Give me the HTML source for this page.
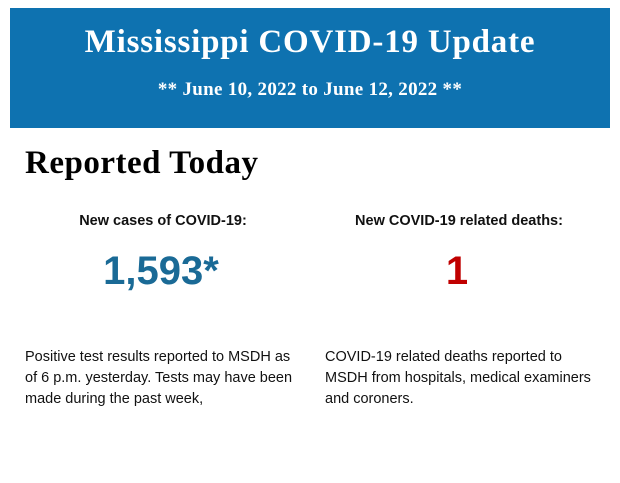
<!DOCTYPE html>
<html><head><style>
body{margin:0;width:620px;height:483px;background:#fff;position:relative;overflow:hidden}
.banner{position:absolute;left:10px;top:8px;width:600px;height:120px;background:#0e72b0;color:#fff;font-family:"Liberation Serif",serif;font-weight:bold;text-align:center}
.t1{position:absolute;left:0;right:0;top:16px;font-size:33px;letter-spacing:0.8px}
.t2{position:absolute;left:0;right:0;top:71px;font-size:19px;letter-spacing:0.3px}
.h{position:absolute;left:25px;top:145px;font-family:"Liberation Serif",serif;font-weight:bold;font-size:33px;letter-spacing:0.5px;color:#000}
.lab{position:absolute;font-family:"Liberation Sans",sans-serif;font-weight:bold;font-size:14.5px;color:#111;text-align:center;width:300px;top:213px}
.num{position:absolute;font-family:"Liberation Sans",sans-serif;font-weight:bold;font-size:40px;text-align:center;width:280px;top:249px}
.p{position:absolute;font-family:"Liberation Sans",sans-serif;font-size:14.5px;line-height:21px;color:#111;top:347px}
</style></head><body>
<div class="banner"><div class="t1">Mississippi COVID-19 Update</div><div class="t2">** June 10, 2022 to June 12, 2022 **</div></div>
<div class="h">Reported Today</div>
<div class="lab" style="left:13px">New cases of COVID-19:</div>
<div class="lab" style="left:309px">New COVID-19 related deaths:</div>
<div class="num" style="left:21px;color:#1a6a96">1,593*</div>
<div class="num" style="left:317px;color:#c00000">1</div>
<div class="p" style="left:25px;width:276px">Positive test results reported to MSDH as of 6 p.m. yesterday. Tests may have been made during the past week,</div>
<div class="p" style="left:325px;width:274px">COVID-19 related deaths reported to MSDH from hospitals, medical examiners and coroners.</div>
</body></html>
